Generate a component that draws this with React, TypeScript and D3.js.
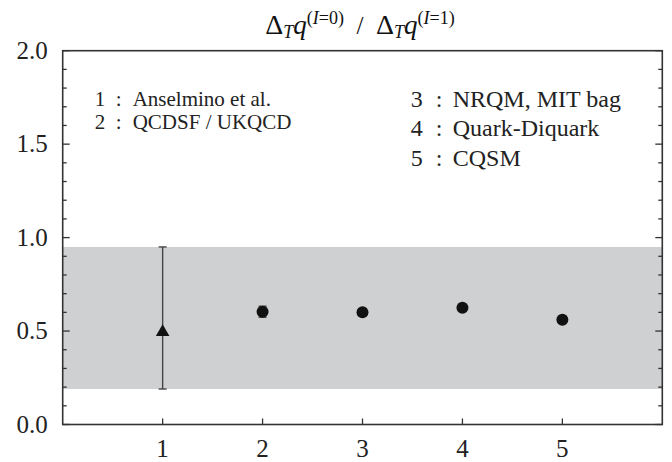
import * as d3 from 'd3';
import React from 'react';

// model index on x, ratio on y
const models = [1, 2, 3, 4, 5];
const ratios = [0.5, 0.603, 0.6, 0.625, 0.56];
const errLow = [0.19, 0.574, null, null, null];
const errHigh = [0.95, 0.633, null, null, null];
const markers = ['triangle', 'circle', 'circle', 'circle', 'circle'];
const band = [0.19, 0.95];
const yTickLabels = ['0.0', '0.5', '1.0', '1.5', '2.0'];
const xTickLabels = ['1', '2', '3', '4', '5'];
const legendLeft = [['1', 'Anselmino et al.'], ['2', 'QCDSF / UKQCD']];
const legendRight = [['3', 'NRQM, MIT bag'], ['4', 'Quark-Diquark'], ['5', 'CQSM']];

const W = 672;
const H = 462;
const margin = { top: 50.7, right: 9.7, bottom: 37.5, left: 62.7 };
const serif = '"Liberation Serif", "Times New Roman", serif';
const axisColor = '#333';

function App() {
    const width = W - margin.left - margin.right;
    const height = H - margin.top - margin.bottom;

    const x = d3.scaleLinear().domain([0, 6]).range([0, width]);
    const y = d3.scaleLinear().domain([0, 2]).range([height, 0]);

    const minor = d3.range(0, 21).map(i => i / 10);
    const triangle = d3.symbol().type(d3.symbolTriangle).size(80);

    return (
        <svg width={W} height={H} style={{ position: 'absolute', left: 0, top: 0 }} fontFamily={serif}>
            {/* title */}
            <text x={360} y={34} textAnchor="middle" fontSize={25} fill="#111">
                <tspan fontSize={28}>Δ</tspan>
                <tspan fontStyle="italic" fontSize={18} dy={4}>T</tspan>
                <tspan fontStyle="italic" fontSize={27} dy={-4}>q</tspan>
                <tspan fontSize={18} dy={-10}>(</tspan>
                <tspan fontSize={18} fontStyle="italic">I</tspan>
                <tspan fontSize={18}>=0)</tspan>
                <tspan dy={10}>{'\u2002/\u2002'}</tspan>
                <tspan fontSize={28}>Δ</tspan>
                <tspan fontStyle="italic" fontSize={18} dy={4}>T</tspan>
                <tspan fontStyle="italic" fontSize={27} dy={-4}>q</tspan>
                <tspan fontSize={18} dy={-10}>(</tspan>
                <tspan fontSize={18} fontStyle="italic">I</tspan>
                <tspan fontSize={18}>=1)</tspan>
            </text>

            <g transform={`translate(${margin.left},${margin.top})`}>
                {/* shaded band */}
                <rect x={0} y={y(band[1])} width={width} height={y(band[0]) - y(band[1])} fill="#cfd0d2" />

                {/* error bars */}
                {models.map((m, i) => errLow[i] == null ? null : (
                    <g key={'e' + i} stroke="#444" strokeWidth={1.4}>
                        <line x1={x(m)} x2={x(m)} y1={y(errLow[i] as number)} y2={y(errHigh[i] as number)} />
                        <line x1={x(m) - 4} x2={x(m) + 4} y1={y(errLow[i] as number)} y2={y(errLow[i] as number)} />
                        <line x1={x(m) - 4} x2={x(m) + 4} y1={y(errHigh[i] as number)} y2={y(errHigh[i] as number)} />
                    </g>
                ))}

                {/* markers */}
                {models.map((m, i) => markers[i] === 'triangle' ? (
                    <path key={'m' + i} d={triangle() as string} transform={`translate(${x(m)},${y(ratios[i]) + 1})`} fill="#111" />
                ) : (
                    <circle key={'m' + i} cx={x(m)} cy={y(ratios[i])} r={6} fill="#111" />
                ))}

                {/* frame */}
                <rect x={0} y={0} width={width} height={height} fill="none" stroke={axisColor} strokeWidth={1.6} />

                {/* y ticks, both sides */}
                {minor.map((v, i) => {
                    const len = i % 5 === 0 ? 7 : 4;
                    return (
                        <g key={'yt' + i} stroke={axisColor} strokeWidth={1.3}>
                            <line x1={0} x2={len} y1={y(v)} y2={y(v)} />
                            <line x1={width} x2={width - len} y1={y(v)} y2={y(v)} />
                        </g>
                    );
                })}
                {yTickLabels.map((t, i) => (
                    <text key={'yl' + i} x={-15} y={y(+t)} dy="0.33em" textAnchor="end" fontSize={25} fill="#222">{t}</text>
                ))}

                {/* x ticks */}
                {xTickLabels.map((t, i) => (
                    <g key={'xt' + i}>
                        <line x1={x(+t)} x2={x(+t)} y1={height} y2={height - 6} stroke={axisColor} strokeWidth={1.3} />
                        <text x={x(+t)} y={height + 33} textAnchor="middle" fontSize={25} fill="#222">{t}</text>
                    </g>
                ))}

                {/* legend text */}
                {legendLeft.map((t, i) => (
                    <g key={'ll' + i} fontSize={21} fill="#222">
                        <text x={32} y={55 + i * 23}>{t[0]}</text>
                        <text x={53} y={55 + i * 23}>:</text>
                        <text x={70} y={55 + i * 23}>{t[1]}</text>
                    </g>
                ))}
                {legendRight.map((t, i) => (
                    <g key={'lr' + i} fontSize={24} fill="#222">
                        <text x={348} y={56 + i * 29.5}>{t[0]}</text>
                        <text x={373} y={56 + i * 29.5}>:</text>
                        <text x={390} y={56 + i * 29.5}>{t[1]}</text>
                    </g>
                ))}
            </g>
        </svg>
    );
}

export default App;
